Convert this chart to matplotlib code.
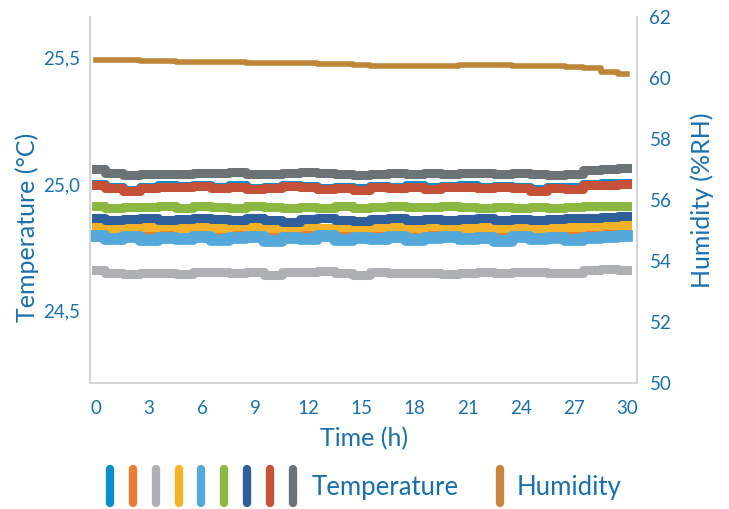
#!/usr/bin/env python3
# Temperature / humidity logging over 30 h, twin y axes
import matplotlib
matplotlib.use("Agg")
import matplotlib.pyplot as plt
from matplotlib.lines import Line2D
from matplotlib.markers import MarkerStyle
from matplotlib.legend_handler import HandlerTuple
from matplotlib.ticker import FuncFormatter

plt.rcParams['font.family'] = ['Lato', 'DejaVu Sans']

BLUE_TXT = "#1a70ae"

hours = list(range(31))

# temperature sensors (deg C), hourly readings
t_blue = [25.000, 24.990, 24.978, 24.990, 24.995, 24.993, 24.997, 24.990, 24.995, 24.986, 24.990,
          24.997, 24.993, 24.986, 24.990, 24.984, 24.993, 24.990, 24.995, 24.987, 24.993,
          24.995, 24.990, 24.993, 24.988, 24.981, 24.990, 24.988, 25.000, 25.004, 25.006]
t_orange = [24.825, 24.818, 24.820, 24.815, 24.822, 24.812, 24.820, 24.815, 24.822, 24.818, 24.812,
            24.820, 24.822, 24.815, 24.818, 24.812, 24.820, 24.818, 24.815, 24.822, 24.818,
            24.812, 24.820, 24.815, 24.820, 24.812, 24.818, 24.820, 24.822, 24.825, 24.828]
t_lgray = [24.660, 24.650, 24.645, 24.648, 24.650, 24.646, 24.652, 24.655, 24.650, 24.654, 24.640,
           24.652, 24.654, 24.656, 24.650, 24.642, 24.652, 24.650, 24.648, 24.650, 24.646,
           24.650, 24.652, 24.648, 24.655, 24.654, 24.648, 24.650, 24.660, 24.664, 24.662]
t_yellow = [24.838, 24.828, 24.832, 24.830, 24.835, 24.826, 24.833, 24.828, 24.835, 24.830, 24.826,
            24.832, 24.835, 24.828, 24.830, 24.825, 24.832, 24.830, 24.828, 24.835, 24.830,
            24.826, 24.832, 24.828, 24.833, 24.825, 24.830, 24.832, 24.835, 24.838, 24.840]
t_lblue = [24.795, 24.785, 24.790, 24.778, 24.788, 24.782, 24.792, 24.780, 24.786, 24.790, 24.776,
           24.788, 24.784, 24.794, 24.780, 24.786, 24.782, 24.790, 24.778, 24.786, 24.790,
           24.782, 24.786, 24.776, 24.792, 24.784, 24.788, 24.778, 24.786, 24.792, 24.794]
t_green = [24.912, 24.905, 24.910, 24.908, 24.912, 24.906, 24.915, 24.910, 24.905, 24.912, 24.908,
           24.905, 24.910, 24.907, 24.912, 24.905, 24.910, 24.912, 24.908, 24.910, 24.913,
           24.908, 24.905, 24.910, 24.906, 24.910, 24.905, 24.908, 24.912, 24.915, 24.913]
t_dblue = [24.868, 24.860, 24.862, 24.865, 24.860, 24.863, 24.868, 24.862, 24.858, 24.865, 24.860,
           24.852, 24.862, 24.865, 24.860, 24.855, 24.862, 24.865, 24.860, 24.863, 24.858,
           24.862, 24.866, 24.860, 24.862, 24.858, 24.862, 24.865, 24.868, 24.872, 24.875]
t_red = [24.995, 24.985, 24.972, 24.985, 24.990, 24.988, 24.992, 24.985, 24.990, 24.980, 24.985,
         24.992, 24.988, 24.980, 24.985, 24.978, 24.988, 24.985, 24.990, 24.982, 24.988,
         24.990, 24.985, 24.988, 24.983, 24.975, 24.985, 24.982, 24.995, 24.998, 25.000]
t_dgray = [25.058, 25.045, 25.038, 25.040, 25.042, 25.040, 25.043, 25.045, 25.048, 25.042, 25.040,
           25.045, 25.048, 25.043, 25.040, 25.035, 25.042, 25.045, 25.040, 25.043, 25.040,
           25.045, 25.043, 25.040, 25.043, 25.040, 25.038, 25.042, 25.055, 25.058, 25.062]

# humidity (%RH)
humidity = [60.58, 60.60, 60.58, 60.55, 60.55, 60.54, 60.54, 60.53, 60.52, 60.50, 60.50,
            60.48, 60.48, 60.46, 60.45, 60.42, 60.40, 60.39, 60.39, 60.39, 60.40,
            60.41, 60.41, 60.41, 60.40, 60.40, 60.39, 60.36, 60.32, 60.20, 60.12]

temp_series = [t_blue, t_orange, t_lgray, t_yellow, t_lblue, t_green, t_dblue, t_red, t_dgray]
temp_colors = ["#0b8dcb", "#ec7c30", "#aeb0b3", "#f3b228", "#55a9da",
               "#8ab840", "#2f5f9a", "#c45138", "#6c7377"]
temp_widths = [6.5, 6.5, 6.5, 6.5, 8.5, 6.5, 6.5, 6.5, 6.5]
hum_color = "#bd8638"
hum_legend_color = "#c8843a"

x_ticks = [0, 3, 6, 9, 12, 15, 18, 21, 24, 27, 30]
t_ticks = [24.5, 25.0, 25.5]
h_ticks = [50, 52, 54, 56, 58, 60, 62]

fig = plt.figure(figsize=(7.29, 5.09), dpi=100)
ax = fig.add_axes([90 / 729, 126 / 509, 547 / 729, 366 / 509])
ax2 = ax.twinx()

for ys, c, w in zip(temp_series, temp_colors, temp_widths):
    ax.plot(hours, ys, color=c, lw=w, drawstyle='steps-mid')
ax2.plot(hours, humidity, color=hum_color, lw=4, drawstyle='steps-mid')

ax.set_xlim(-0.34, 30.56)
ax.set_ylim(24.215, 25.66)
ax2.set_ylim(50, 62)
ax.set_xticks(x_ticks)
ax.set_yticks(t_ticks)
ax2.set_yticks(h_ticks)
ax.yaxis.set_major_formatter(FuncFormatter(lambda v, p: f"{v:.1f}".replace('.', ',')))

for a in (ax, ax2):
    for s in a.spines.values():
        s.set_color("#d4d4d4")
        s.set_linewidth(1.2)
    a.spines['top'].set_visible(False)
    a.tick_params(length=0, labelsize=13.5, labelcolor=BLUE_TXT)
ax.tick_params(axis='x', pad=12)
ax.tick_params(axis='y', pad=7)
ax2.tick_params(axis='y', pad=9)

ax.set_xlabel("Time (h)", fontsize=18, color=BLUE_TXT)
ax.set_ylabel("Temperature (°C)", fontsize=18, color=BLUE_TXT)
ax2.set_ylabel("Humidity (%RH)", fontsize=18, color=BLUE_TXT, rotation=90)
ax.xaxis.set_label_coords(0.501, -0.12)
ax.yaxis.set_label_coords(-0.094, 0.426)
ax2.yaxis.set_label_coords(1.097, 0.5)

# legend: row of vertical bars for the temperature sensors, one for humidity
bar = MarkerStyle('|', capstyle='round')
t_handles = tuple(Line2D([], [], ls='none', marker=bar, markersize=25,
                         markeredgewidth=6, color=c) for c in temp_colors)
h_handle = Line2D([], [], ls='none', marker=bar, markersize=25,
                  markeredgewidth=6, color=hum_legend_color)
fs = 18.5
leg1 = fig.legend([t_handles], ["Temperature"], handler_map={tuple: HandlerTuple(ndivide=None, pad=0)},
                  loc='center left', bbox_to_anchor=(98.6 / 729, 22 / 509), frameon=False,
                  fontsize=fs, handlelength=8.0, handletextpad=0.3, borderpad=0, borderaxespad=0,
                  labelcolor=BLUE_TXT)
leg2 = fig.legend([h_handle], ["Humidity"], loc='center left',
                  bbox_to_anchor=(490 / 729, 22 / 509), frameon=False,
                  fontsize=fs, handlelength=0.75, handletextpad=0.3, borderpad=0, borderaxespad=0,
                  labelcolor=BLUE_TXT)

fig.savefig("out.png", dpi=100)
